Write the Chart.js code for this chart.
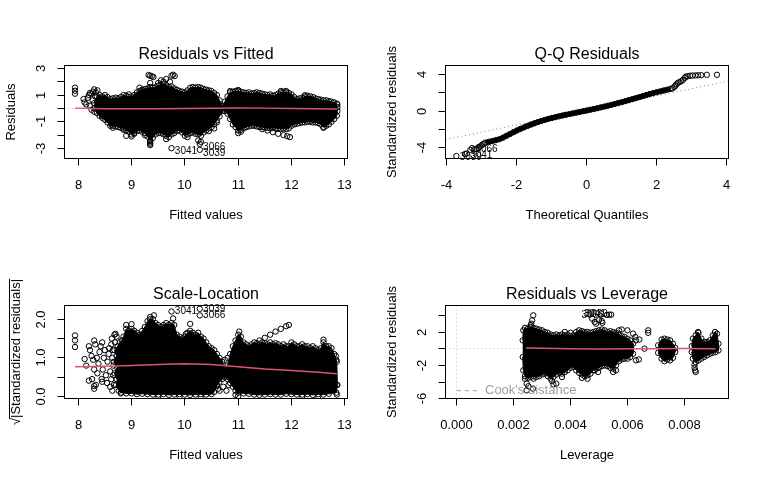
<!DOCTYPE html>
<html>
<head>
<meta charset="utf-8">
<script src="https://cdn.jsdelivr.net/npm/chart.js@4.4.1/dist/chart.umd.min.js"></script>
<style>
  html, body { margin: 0; padding: 0; background: #fff; }
  #wrap { position: relative; width: 761px; height: 481px; overflow: hidden; }
  canvas { position: absolute; }
</style>
</head>
<body>
<div id="wrap">
  <canvas id="rvf" width="380" height="240" style="left:0;top:0"></canvas>
  <canvas id="qq" width="380" height="240" style="left:381px;top:0"></canvas>
  <canvas id="sl" width="380" height="241" style="left:0;top:240px"></canvas>
  <canvas id="rvl" width="380" height="241" style="left:381px;top:240px"></canvas>
</div>
<script>
"use strict";

// --- axis ticks (R draws every tick, labels only where they fit) ---
const fitTicks = [8, 9, 10, 11, 12, 13];
const fitTickLabels = ["8", "9", "10", "11", "12", "13"];
const residTicks = [-3, -2, -1, 0, 1, 2, 3];
const residTickLabels = ["-3", "", "-1", "", "1", "", "3"];
const qTicks = [-4, -2, 0, 2, 4];
const qTickLabels = ["-4", "-2", "0", "2", "4"];
const stdTicks = [-4, -2, 0, 2, 4];
const stdTickLabels = ["-4", "", "0", "", "4"];
const sqrtTicks = [0, 0.5, 1, 1.5, 2];
const sqrtTickLabels = ["0.0", "", "1.0", "", "2.0"];
const levTicks = [0, 0.002, 0.004, 0.006, 0.008];
const levTickLabels = ["0.000", "0.002", "0.004", "0.006", "0.008"];
const levStdTicks = [-6, -4, -2, 0, 2, 4];
const levStdTickLabels = ["-6", "", "-2", "", "2", ""];

// --- Residuals vs Fitted: outline of the dense cloud, loose points, smoother ---
const rvfCore = [
  [8.3,0.4],[8.35,0.9],[8.4,1.0],[8.45,0.9],[8.5,1.0],[8.55,0.85],[8.6,0.7],
  [8.65,0.75],[8.7,0.8],[8.75,0.75],[8.8,0.85],[8.85,1.0],[8.9,0.95],[8.95,0.85],[9.0,0.9],[9.05,1.0],[9.1,1.2],
  [9.15,1.3],[9.2,1.4],[9.25,1.45],[9.3,1.5],[9.35,1.6],[9.4,1.55],[9.45,1.6],[9.5,1.7],[9.55,1.8],[9.6,1.85],
  [9.65,1.75],[9.7,1.6],[9.75,1.65],[9.8,1.5],[9.85,1.4],[9.9,1.3],[9.95,1.25],[10.0,1.2],[10.05,1.35],[10.1,1.55],
  [10.15,1.6],[10.2,1.55],[10.25,1.6],[10.3,1.55],[10.35,1.45],[10.4,1.4],[10.45,1.35],[10.5,1.3],[10.55,1.15],[10.6,1.0],
  [10.65,0.6],[10.7,0.2],[10.75,0.5],[10.8,0.9],[10.85,1.2],[10.9,1.25],[10.95,1.3],[11.0,1.3],[11.05,1.25],[11.1,1.2],
  [11.15,1.15],[11.2,1.2],[11.25,1.1],[11.3,1.15],[11.35,1.2],[11.4,1.15],[11.45,1.1],[11.5,1.05],[11.55,1.0],[11.6,1.05],
  [11.65,0.95],[11.7,1.0],[11.75,1.1],[11.8,1.2],[11.85,1.25],[11.9,1.2],[11.95,1.15],[12.0,1.05],[12.05,0.85],[12.1,0.7],
  [12.15,0.75],[12.2,0.8],[12.25,0.9],[12.3,0.95],[12.35,0.9],[12.4,0.85],[12.45,0.75],[12.5,0.7],[12.55,0.65],[12.6,0.6],
  [12.65,0.6],[12.7,0.55],[12.75,0.5],[12.8,0.45],[12.85,0.35],
  [12.86,-0.2],[12.85,-0.55],[12.8,-0.8],[12.75,-1.0],[12.7,-1.2],[12.65,-1.3],[12.6,-1.4],[12.55,-1.2],[12.5,-1.1],[12.45,-1.05],
  [12.4,-1.05],[12.35,-1.0],[12.3,-1.0],[12.25,-1.05],[12.2,-1.05],[12.15,-1.1],[12.1,-1.15],[12.05,-1.2],[12.0,-1.3],[11.95,-1.5],
  [11.9,-1.55],[11.85,-1.5],[11.8,-1.55],[11.75,-1.5],[11.7,-1.5],[11.65,-1.45],[11.6,-1.5],[11.55,-1.45],[11.5,-1.45],[11.45,-1.4],
  [11.4,-1.4],[11.35,-1.35],[11.3,-1.3],[11.25,-1.3],[11.2,-1.35],[11.15,-1.4],[11.1,-1.5],[11.05,-1.6],[11.0,-1.65],[10.95,-1.4],
  [10.9,-1.2],[10.85,-0.8],[10.8,-0.4],[10.75,-0.2],[10.7,-0.2],[10.65,-0.6],[10.6,-0.9],[10.55,-1.2],[10.5,-1.4],[10.45,-1.5],
  [10.4,-1.65],[10.35,-1.8],[10.3,-2.05],[10.25,-1.95],[10.2,-1.9],[10.15,-1.8],[10.1,-1.85],[10.05,-1.95],[10.0,-2.05],[9.95,-1.8],
  [9.9,-1.65],[9.85,-1.7],[9.8,-1.85],[9.75,-1.95],[9.7,-2.15],[9.65,-2.05],[9.6,-1.95],[9.55,-1.85],[9.5,-1.85],[9.45,-1.95],
  [9.4,-2.2],[9.35,-2.4],[9.3,-2.1],[9.25,-1.85],[9.2,-1.75],[9.15,-1.65],[9.1,-1.7],[9.05,-1.85],[9.0,-1.95],[8.95,-1.75],
  [8.9,-1.65],[8.85,-1.5],[8.8,-1.45],[8.75,-1.4],[8.7,-1.35],[8.65,-1.3],[8.6,-1.3],[8.55,-1.05],[8.5,-0.85],[8.45,-0.7],
  [8.4,-0.55],[8.35,-0.35],[8.3,0.0]
];
const rvfPts = [
  [7.94,1.55],[7.94,1.32],[7.94,1.1],[8.1,0.7],[8.12,0.45],[8.15,0.3],[8.18,0.8],[8.2,1.0],[8.22,0.2],[8.22,1.15],
  [8.25,1.1],[8.25,-0.1],[8.27,0.6],[8.28,1.25],[8.3,-0.25],[8.3,1.42],[8.32,0.9],[8.33,1.2],[8.36,1.35],[8.45,-0.55],
  [8.55,-0.85],[8.62,-1.2],[8.65,-1.45],[8.85,-1.6],[8.9,-2.05],[9.0,-2.1],[9.05,-1.9],[8.95,1.05],[9.15,1.55],[9.2,1.35],
  [9.25,-2.0],[9.32,2.5],[9.35,2.45],[9.38,2.4],[9.41,2.35],[9.35,1.9],[9.35,-2.45],[9.35,-2.55],[9.35,-2.65],[9.35,-2.75],
  [9.5,1.9],[9.55,2.1],[9.6,2.0],[9.65,2.2],[9.72,2.0],[9.75,2.45],[9.78,2.52],[9.81,2.42],[9.65,-2.3],[9.75,-2.98],
  [10.0,-1.5],[10.05,-2.15],[10.25,-2.4],[10.3,-2.5],[10.28,-2.65],[10.28,-3.1],[10.45,-1.7],[10.55,-1.5],[10.6,-1.05],[10.85,1.3],
  [11.0,1.38],[11.05,-1.75],[11.0,-1.85],[11.45,-1.55],[11.55,-1.65],[11.65,-1.78],[11.75,-1.9],[11.85,-2.0],[11.92,-2.08],[11.97,-2.15],
  [12.6,-1.45],[11.8,1.3],[11.9,1.3],[12.25,0.98],[12.86,0.1],[12.86,0.3]
];
const rvfSmooth = [[7.94,0.02],[8.5,-0.02],[9,-0.03],[9.5,-0.02],[10,0.0],[10.5,0.01],[11,0.03],[11.5,0.02],[12,0.0],[12.5,-0.02],[12.86,-0.04]];
const rvfIds = [[9.75,-2.98,"3041"],[10.28,-2.65,"3066"],[10.28,-3.1,"3039"]];

// --- Q-Q Residuals ---
const qqLower = [
  [-3.73,-4.98],[-3.48,-4.75],[-3.43,-4.7],[-3.33,-4.3],[-3.28,-4.1],[-3.22,-4.22],[-3.16,-4.18],[-3.1,-4.08],
  [-3.06,-3.95],[-3.02,-3.82],[-2.98,-3.7],[-2.94,-3.6]
];
const qqBody = [
  [-2.9,-3.5],[-2.8,-3.4],[-2.7,-3.32],[-2.6,-3.22],[-2.5,-3.12],[-2.4,-2.95],[-2.3,-2.75],[-2.2,-2.55],[-2.1,-2.35],[-2.0,-2.15],
  [-1.9,-1.98],[-1.8,-1.82],[-1.7,-1.66],[-1.6,-1.5],[-1.5,-1.36],[-1.4,-1.22],[-1.3,-1.1],[-1.2,-0.98],[-1.1,-0.87],[-1.0,-0.77],
  [-0.9,-0.68],[-0.8,-0.59],[-0.7,-0.5],[-0.6,-0.42],[-0.5,-0.34],[-0.4,-0.26],[-0.3,-0.18],[-0.2,-0.1],[-0.1,-0.02],[0.0,0.06],
  [0.1,0.14],[0.2,0.22],[0.3,0.31],[0.4,0.4],[0.5,0.49],[0.6,0.58],[0.7,0.68],[0.8,0.78],[0.9,0.88],[1.0,0.98],
  [1.1,1.09],[1.2,1.2],[1.3,1.31],[1.4,1.42],[1.5,1.53],[1.6,1.65],[1.7,1.77],[1.8,1.88],[1.9,1.98],[2.0,2.08],
  [2.1,2.17],[2.2,2.27],[2.3,2.36],[2.4,2.45]
];
const qqUpper = [
  [2.45,2.52],[2.5,2.65],[2.53,2.8],[2.56,2.95],[2.6,3.1],[2.65,3.2],[2.7,3.3],[2.75,3.45],[2.8,3.65],[2.83,3.8],
  [2.88,3.85],[2.95,3.9],[3.02,3.92],[3.1,3.93],[3.18,3.95],[3.27,3.96],[3.43,4.0],[3.72,4.0]
];
const qqLine = [[-4.04,-3.16],[4.05,3.31]];
const qqIds = [[-3.73,-4.98,"3039"],[-3.43,-4.7,"3041"],[-3.28,-4.1,"3066"]];

// --- Scale-Location ---
const slCore = [
  [8.72,0.45],[8.68,0.6],[8.73,0.75],[8.67,0.9],[8.72,1.05],[8.68,1.2],[8.74,1.3],
  [8.78,1.4],[8.82,1.45],[8.85,1.55],[8.9,1.75],[8.95,1.7],[9.0,1.75],[9.05,1.7],[9.1,1.65],[9.15,1.6],[9.2,1.7],
  [9.25,1.8],[9.3,1.95],[9.35,2.0],[9.4,2.0],[9.45,1.9],[9.5,1.85],[9.55,1.8],[9.6,1.85],[9.65,1.9],[9.7,1.85],
  [9.75,1.9],[9.8,1.85],[9.85,1.6],[9.9,1.55],[9.95,1.5],[10.0,1.55],[10.05,1.65],[10.1,1.7],[10.15,1.65],[10.2,1.6],
  [10.25,1.65],[10.3,1.55],[10.35,1.5],[10.4,1.4],[10.45,1.3],[10.5,1.25],[10.55,1.2],[10.6,1.1],[10.65,1.0],[10.7,0.9],
  [10.75,0.75],[10.8,0.8],[10.85,1.1],[10.9,1.3],[10.95,1.45],[11.0,1.6],[11.05,1.55],[11.1,1.4],[11.15,1.35],[11.2,1.3],
  [11.25,1.35],[11.3,1.4],[11.35,1.38],[11.4,1.35],[11.45,1.4],[11.5,1.38],[11.55,1.35],[11.6,1.4],[11.65,1.35],[11.7,1.38],
  [11.75,1.35],[11.8,1.3],[11.85,1.35],[11.9,1.3],[11.95,1.3],[12.0,1.4],[12.05,1.35],[12.1,1.3],[12.15,1.3],[12.2,1.35],
  [12.25,1.3],[12.3,1.3],[12.35,1.25],[12.4,1.3],[12.45,1.25],[12.5,1.2],[12.55,1.25],[12.6,1.4],[12.65,1.3],[12.7,1.3],
  [12.75,1.25],[12.8,1.1],[12.85,0.9],
  [12.86,0.3],[12.84,0.1],[12.7,0.07],[12.6,0.05],[12.5,0.06],[12.4,0.04],[12.3,0.06],[12.2,0.05],[12.1,0.05],[12.0,0.06],
  [11.9,0.07],[11.8,0.05],[11.7,0.05],[11.6,0.06],[11.5,0.05],[11.4,0.04],[11.3,0.05],[11.2,0.07],[11.1,0.08],[11.0,0.1],
  [10.95,0.15],[10.9,0.25],[10.85,0.35],[10.8,0.45],[10.75,0.5],[10.7,0.45],[10.65,0.38],[10.6,0.28],[10.55,0.12],[10.5,0.06],
  [10.4,0.05],[10.3,0.06],[10.2,0.05],[10.1,0.04],[10.0,0.05],[9.9,0.06],[9.8,0.05],[9.7,0.04],[9.6,0.06],[9.5,0.05],
  [9.4,0.05],[9.3,0.06],[9.2,0.07],[9.1,0.06],[9.0,0.08],[8.9,0.08],[8.8,0.1],[8.76,0.15],[8.71,0.3]
];
const slPts = [
  [7.94,1.58],[7.94,1.45],[7.94,1.28],[8.12,0.97],[8.15,0.8],[8.2,0.41],[8.3,0.27],[8.3,0.2],[8.45,0.38],[8.6,0.25],
  [8.2,1.3],[8.22,1.2],[8.25,1.05],[8.28,0.95],[8.3,1.45],[8.32,1.35],[8.33,0.3],[8.36,0.6],[8.38,0.85],[8.4,1.15],
  [8.42,1.3],[8.44,0.45],[8.46,0.7],[8.48,1.0],[8.5,1.2],[8.52,0.55],[8.54,0.35],[8.55,0.9],[8.57,1.1],[8.58,1.25],
  [8.6,0.65],[8.62,0.45],[8.63,1.5],[8.64,1.0],[8.66,0.8],[8.67,0.3],[8.68,1.6],[8.69,1.4],[8.65,1.2],[8.66,0.55],
  [8.26,0.45],[8.3,0.7],[8.45,1.4],[8.35,1.0],[8.62,1.35],[8.64,0.15],
  [8.7,1.62],[8.72,1.55],[8.9,1.85],[9.0,1.87],[9.35,2.06],[9.42,2.1],[9.75,2.2],[10.28,2.27],[10.28,2.1],[9.78,2.02],
  [10.1,1.88],[10.02,1.62],[11.02,1.68],[11.4,1.45],[11.5,1.52],[11.6,1.6],[11.7,1.68],[11.8,1.75],[11.9,1.82],[11.95,1.85],
  [12.6,1.47],[11.0,0.01],[10.95,0.04],[9.5,0.0],[9.9,0.0],[12.5,0.0],[12.2,0.0],[12.85,0.05],[12.83,1.05],[12.84,0.95],
  [12.85,0.3],[10.6,0.3],[10.7,0.62],[8.8,0.08],[10.3,0.0],
  [10.62,0.2],[10.65,0.15],[10.68,0.6],[10.72,0.25],[10.75,0.95],[10.78,0.15],[10.8,1.0],[10.82,0.3]
];
const slSmooth = [[7.94,0.77],[8.5,0.78],[9,0.8],[9.5,0.83],[10,0.845],[10.5,0.83],[11,0.77],[11.5,0.71],[12,0.67],[12.5,0.63],[12.85,0.59]];
const slIds = [[9.75,2.2,"3041"],[10.28,2.27,"3039"],[10.28,2.1,"3066"]];

// --- Residuals vs Leverage ---
const rvlCore = [
  [0.00232,1.0],[0.00234,2.2],[0.0024,2.5],[0.0025,2.4],[0.0026,2.6],[0.0027,2.5],[0.0028,2.4],[0.0029,2.3],[0.003,2.2],[0.0031,2.0],
  [0.0032,1.9],[0.0033,1.7],[0.0034,1.6],[0.0035,1.7],[0.0036,1.6],[0.0037,1.7],[0.0038,1.6],[0.0039,1.7],[0.004,1.5],[0.0041,1.6],
  [0.0042,2.0],[0.0043,2.2],[0.0044,2.1],[0.0045,2.0],[0.0046,2.0],[0.0047,1.9],[0.0048,2.0],[0.0049,2.1],[0.005,2.2],[0.0051,2.3],
  [0.0052,2.2],[0.0053,2.0],[0.0054,2.1],[0.0055,2.0],[0.0056,1.9],[0.0057,1.7],[0.0058,1.5],[0.0059,1.4],[0.006,1.2],[0.0061,1.0],
  [0.0062,0.6],
  [0.0062,-0.6],[0.0061,-1.0],[0.006,-1.2],[0.0059,-1.2],[0.0058,-1.3],[0.0057,-1.5],[0.0056,-2.0],[0.0055,-2.4],[0.0054,-2.3],[0.0053,-2.1],
  [0.0052,-2.0],[0.0051,-2.1],[0.005,-2.3],[0.0049,-2.4],[0.0048,-2.6],[0.0047,-3.0],[0.0046,-3.2],[0.0045,-3.3],[0.0044,-3.1],[0.0043,-2.9],
  [0.0042,-2.6],[0.0041,-2.2],[0.004,-2.3],[0.0039,-2.6],[0.0038,-2.8],[0.0037,-3.0],[0.0036,-2.9],[0.0035,-3.1],[0.0034,-3.4],[0.0033,-3.6],
  [0.0032,-3.3],[0.0031,-3.0],[0.003,-3.1],[0.0029,-3.3],[0.0028,-3.4],[0.0027,-3.3],[0.0026,-3.4],[0.0025,-3.5],[0.0024,-3.3],[0.00234,-2.6],
  [0.00232,-1.0]
];
const rvlGroupA = [
  [0.00708,0.4],[0.0072,1.1],[0.0073,1.2],[0.0074,1.1],[0.0075,1.0],[0.0076,0.6],[0.00768,0.1],
  [0.00768,-0.4],[0.0076,-1.1],[0.0075,-1.4],[0.0074,-1.3],[0.0073,-1.5],[0.0072,-1.2],[0.00708,-0.5]
];
const rvlGroupB = [
  [0.00826,0.3],[0.0083,1.2],[0.0084,1.6],[0.00848,2.0],[0.0086,1.2],[0.0087,0.8],[0.0088,0.8],[0.0089,1.0],[0.009,1.6],[0.00908,2.0],
  [0.00915,1.8],[0.0092,0.6],
  [0.0092,-0.2],[0.0091,-0.4],[0.009,-0.5],[0.0089,-0.6],[0.0088,-0.8],[0.0087,-1.0],[0.0086,-1.2],[0.0085,-1.4],[0.0084,-1.6],[0.0083,-1.2],
  [0.00826,-0.4]
];
const rvlPts = [
  [0.00269,4.0],[0.00265,3.4],[0.00262,3.0],[0.0026,2.8],[0.00246,-4.2],[0.00246,-5.0],[0.00252,-4.5],[0.00268,-4.8],[0.0024,-3.6],[0.0027,-3.6],
  [0.00335,-3.9],[0.0034,-4.3],[0.0035,-4.2],[0.0037,-3.4],[0.0044,-3.5],[0.0046,-3.6],[0.00485,-2.6],[0.00497,-2.8],[0.0055,-2.8],[0.0056,-2.6],
  [0.00476,3.6],[0.00485,3.2],[0.0049,3.0],[0.005,3.4],[0.0051,3.3],[0.00512,3.1],[0.00528,4.05],[0.00536,4.08],[0.00543,4.08],
  [0.0058,2.3],[0.006,2.2],[0.0062,1.8],[0.00628,1.4],[0.0063,1.0],[0.00642,1.1],[0.0066,0.0],[0.0064,-1.3],[0.0063,-1.4],
  [0.00673,2.2],[0.00673,1.9],[0.0038,2.0],[0.004,1.9],[0.0057,2.2],
  [0.00836,-1.9],[0.00836,-2.3],[0.00838,-2.6],[0.0084,-2.8],[0.0085,1.9]
];
const rvlSmooth = [[0.00243,0.08],[0.003,0.05],[0.004,0.0],[0.005,-0.03],[0.006,-0.02],[0.007,0.0],[0.008,0.01],[0.0091,0.0]];
const rvlIds = [[0.00528,4.05,"3066"],[0.00536,4.08,"3041"],[0.00543,4.08,"3039"]];

// --- styling ---
const FONT = '"Liberation Sans", Arial, Helvetica, sans-serif';
const SMOOTH_RED = "#DF536B";
const REF_GRAY = "#BEBEBE";
const QQ_GRAY = "#7F7F7F";
const COOK_GRAY = "#9E9E9E";
const TICK = 7;

const toXY = arr => arr.map(([x, y]) => ({ x, y }));
const circles = {
  pointStyle: "circle",
  pointRadius: 2.7,
  pointHoverRadius: 2.7,
  pointBorderWidth: 1,
  pointBorderColor: "#000",
  pointBackgroundColor: "rgba(0,0,0,0)"
};

function cloudSet(arr) {
  return { data: toXY(arr), showLine: true, fill: "shape", backgroundColor: "#000", borderColor: "#000", borderWidth: 1, ...circles };
}
function pointSet(arr) {
  return { data: toXY(arr), showLine: false, ...circles };
}
function lineSet(arr, color, width, dash) {
  return { data: toXY(arr), showLine: true, borderColor: color, borderWidth: width, borderDash: dash || [], pointRadius: 0, pointHoverRadius: 0, fill: false };
}

const crisp = v => Math.round(v - 0.5) + 0.5;

function seg(ctx, x1, y1, x2, y2) {
  ctx.beginPath();
  ctx.moveTo(x1, y1);
  ctx.lineTo(x2, y2);
  ctx.stroke();
}

// R-like frame: box, outward ticks, rotated y labels, caption, point ids
const rFrame = {
  id: "rFrame",
  beforeDatasetsDraw(chart, args, o) {
    const { ctx, chartArea: a, scales: { x, y } } = chart;
    ctx.save();
    ctx.strokeStyle = REF_GRAY;
    ctx.lineWidth = 1;
    ctx.setLineDash([1, 3]);
    (o.hLines || []).forEach(v => {
      const py = crisp(y.getPixelForValue(v));
      seg(ctx, a.left, py, a.right, py);
    });
    (o.vLines || []).forEach(v => {
      const px = crisp(x.getPixelForValue(v));
      seg(ctx, px, a.top, px, a.bottom);
    });
    ctx.restore();
  },
  afterDraw(chart, args, o) {
    const { ctx, chartArea: a, scales: { x, y } } = chart;
    const cx = (a.left + a.right) / 2;
    const cy = (a.top + a.bottom) / 2;
    ctx.save();
    ctx.strokeStyle = "#000";
    ctx.fillStyle = "#000";
    ctx.lineWidth = 1;
    ctx.strokeRect(a.left, a.top, a.right - a.left, a.bottom - a.top);

    ctx.font = `13px ${FONT}`;
    ctx.textAlign = "center";
    ctx.textBaseline = "alphabetic";
    o.xTicks.forEach((v, i) => {
      const px = crisp(x.getPixelForValue(v));
      seg(ctx, px, a.bottom, px, a.bottom + TICK);
      if (o.xLabels[i]) ctx.fillText(o.xLabels[i], px, a.bottom + 30.5);
    });
    o.yTicks.forEach((v, i) => {
      const py = crisp(y.getPixelForValue(v));
      seg(ctx, a.left - TICK, py, a.left, py);
      if (o.yLabels[i]) {
        ctx.save();
        ctx.translate(a.left - 19.5, py);
        ctx.rotate(-Math.PI / 2);
        ctx.fillText(o.yLabels[i], 0, 0);
        ctx.restore();
      }
    });

    ctx.fillText(o.xlab, cx, a.bottom + 60.5);
    ctx.save();
    ctx.translate(a.left - o.ylabGap, cy);
    ctx.rotate(-Math.PI / 2);
    ctx.fillText(o.ylab, 0, 0);
    if (o.sqrtBar) {
      const w = ctx.measureText(o.ylab).width;
      const r = ctx.measureText("\u221A").width;
      seg(ctx, -w / 2 + r * 0.85, -10.5, w / 2, -10.5);
    }
    ctx.restore();

    ctx.font = `16px ${FONT}`;
    ctx.fillText(o.title, cx, a.top - 6.5);

    if (o.ids) {
      ctx.font = `10px ${FONT}`;
      ctx.textBaseline = "middle";
      ctx.textAlign = o.idSide === "left" ? "right" : "left";
      o.ids.forEach(([vx, vy, label]) => {
        const px = x.getPixelForValue(vx);
        const py = y.getPixelForValue(vy);
        const dx = o.idSide === "left" ? -3.3 : 3.3;
        ctx.fillText(label, px + dx, py + (o.idDy || 0));
      });
    }

    if (o.cookLegend) {
      const ly = a.bottom - 7.8;
      ctx.strokeStyle = COOK_GRAY;
      ctx.setLineDash([4, 4]);
      seg(ctx, a.left + 11.5, ly, a.left + 34.5, ly);
      ctx.setLineDash([]);
      ctx.fillStyle = COOK_GRAY;
      ctx.font = `13px ${FONT}`;
      ctx.textAlign = "left";
      ctx.textBaseline = "middle";
      ctx.fillText("Cook's distance", a.left + 39.5, ly);
    }
    ctx.restore();
  }
};

function makePanel(id, xRange, yRange, datasets, frame) {
  const canvas = document.getElementById(id);
  return new Chart(canvas, {
    type: "scatter",
    data: { datasets },
    options: {
      responsive: false,
      animation: false,
      events: [],
      layout: { padding: { left: 64.5, right: 32.5, top: 65.5, bottom: canvas.height - 158.5 } },
      scales: {
        x: { type: "linear", display: false, min: xRange[0], max: xRange[1] },
        y: { type: "linear", display: false, min: yRange[0], max: yRange[1] }
      },
      plugins: { legend: { display: false }, tooltip: { enabled: false }, rFrame: frame }
    },
    plugins: [rFrame]
  });
}

// dataset index 0 is painted last (on top)
makePanel("rvf", [7.743, 13.05], [-3.75, 3.21], [
  lineSet(rvfSmooth, SMOOTH_RED, 1.5),
  pointSet(rvfPts),
  cloudSet(rvfCore)
], {
  title: "Residuals vs Fitted", xlab: "Fitted values", ylab: "Residuals", ylabGap: 49.5,
  xTicks: fitTicks, xLabels: fitTickLabels, yTicks: residTicks, yLabels: residTickLabels,
  hLines: [0], ids: rvfIds, idSide: "right", idDy: 3.3
});

makePanel("qq", [-4.04, 4.05], [-5.25, 5.03], [
  pointSet(qqLower),
  pointSet(qqUpper),
  { ...lineSet(qqBody, "#000", 5), ...circles },
  lineSet(qqLine, QQ_GRAY, 1, [1, 3])
], {
  title: "Q-Q Residuals", xlab: "Theoretical Quantiles", ylab: "Standardized residuals", ylabGap: 49.5,
  xTicks: qTicks, xLabels: qTickLabels, yTicks: stdTicks, yLabels: stdTickLabels,
  ids: qqIds, idSide: "right", idDy: 1.5
});

makePanel("sl", [7.743, 13.05], [-0.052, 2.355], [
  lineSet(slSmooth, SMOOTH_RED, 1.5),
  pointSet(slPts),
  cloudSet(slCore)
], {
  title: "Scale-Location", xlab: "Fitted values", ylab: "\u221A|Standardized residuals|", ylabGap: 44.5, sqrtBar: true,
  xTicks: fitTicks, xLabels: fitTickLabels, yTicks: sqrtTicks, yLabels: sqrtTickLabels,
  ids: slIds, idSide: "right", idDy: 0
});

makePanel("rvl", [-0.000394, 0.009553], [-5.98, 5.18], [
  lineSet(rvlSmooth, SMOOTH_RED, 1.5),
  pointSet(rvlPts),
  cloudSet(rvlGroupB),
  cloudSet(rvlGroupA),
  cloudSet(rvlCore)
], {
  title: "Residuals vs Leverage", xlab: "Leverage", ylab: "Standardized residuals", ylabGap: 49.5,
  xTicks: levTicks, xLabels: levTickLabels, yTicks: levStdTicks, yLabels: levStdTickLabels,
  hLines: [0], vLines: [0], ids: rvlIds, idSide: "left", idDy: 0, cookLegend: true
});
</script>
</body>
</html>
